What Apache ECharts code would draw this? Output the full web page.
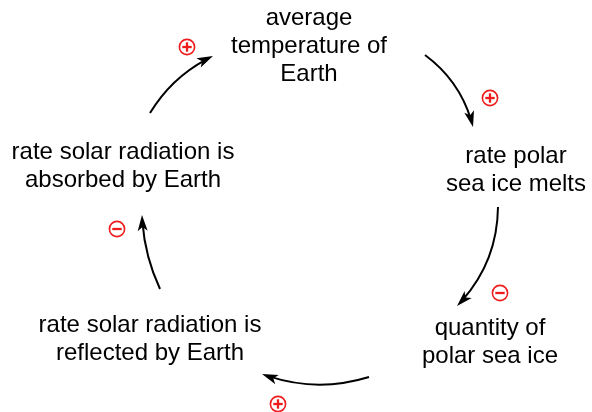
<!DOCTYPE html>
<html>
<head>
<meta charset="utf-8">
<script src="https://cdn.jsdelivr.net/npm/echarts@6/dist/echarts.min.js"></script>
<style>
html,body{margin:0;padding:0;background:#fff;}
#chart{width:592px;height:412px;}
</style>
</head>
<body>
<div id="chart"></div>
<script>
// Concepts of the feedback loop (clockwise from the top)
const conceptLabels = [
  'average\ntemperature of\nEarth',
  'rate polar\nsea ice melts',
  'quantity of\npolar sea ice',
  'rate solar radiation is\nreflected by Earth',
  'rate solar radiation is\nabsorbed by Earth'
];
const conceptPos = [[309, 46], [516, 170], [490, 342], [150, 339], [123, 166]];

// Causal links: concept i -> concept i+1
const linkSigns = ['+', '-', '+', '-', '+'];
const signPos = [[490, 98], [500, 293], [278, 404], [117, 229], [187, 47]];
const arrowFrom = [[425, 55], [498, 207], [369, 377], [160, 289], [150, 113]];
const arrowTo = [[473, 127], [457, 306], [262, 374], [142, 215], [213, 56]];
const arrowCurve = [0.18, 0.2, 0.17, 0.1, 0.15];

const RED = '#ee1c1c';
const FONT = 'Liberation Sans, Arial, sans-serif';

const conceptData = conceptPos.map((p, i) => ({ name: conceptLabels[i], value: p }));
const linkData = arrowFrom.map((f, i) => [f[0], f[1], arrowTo[i][0], arrowTo[i][1], arrowCurve[i]]);
const signData = signPos.map((p, i) => [p[0], p[1], linkSigns[i] === '+' ? 1 : -1]);

function renderConcept(params, api) {
  const p = api.coord([api.value(0), api.value(1)]);
  return {
    type: 'text', x: p[0], y: p[1],
    style: {
      text: conceptLabels[params.dataIndex],
      fontFamily: FONT, fontSize: 24, lineHeight: 28,
      fill: '#000', align: 'center', verticalAlign: 'middle'
    }
  };
}

function renderLink(params, api) {
  const p1 = api.coord([api.value(0), api.value(1)]);
  const p2 = api.coord([api.value(2), api.value(3)]);
  const c = api.value(4);
  const cp = [(p1[0] + p2[0]) / 2 - (p1[1] - p2[1]) * c, (p1[1] + p2[1]) / 2 - (p2[0] - p1[0]) * c];
  let dx = p2[0] - cp[0], dy = p2[1] - cp[1];
  const len = Math.hypot(dx, dy); dx /= len; dy /= len;
  const L = 16, W = 5, N = 12;
  const tip = p2;
  const back = [tip[0] - dx * L, tip[1] - dy * L];
  const left = [back[0] - dy * W, back[1] + dx * W];
  const right = [back[0] + dy * W, back[1] - dx * W];
  const notch = [tip[0] - dx * N, tip[1] - dy * N];
  const chord = Math.hypot(p2[0] - p1[0], p2[1] - p1[1]);
  return {
    type: 'group',
    children: [
      {
        type: 'bezierCurve',
        shape: { x1: p1[0], y1: p1[1], x2: p2[0], y2: p2[1], cpx1: cp[0], cpy1: cp[1], percent: 1 - 7 / chord },
        style: { stroke: '#000', lineWidth: 2, fill: 'none' }
      },
      { type: 'polygon', shape: { points: [tip, left, notch, right] }, style: { fill: '#000' } }
    ]
  };
}

function renderSign(params, api) {
  const p = api.coord([api.value(0), api.value(1)]);
  const plus = api.value(2) > 0;
  const arm = 4.7, th = 2.3;
  const children = [
    { type: 'circle', shape: { cx: p[0], cy: p[1], r: 7.6 }, style: { fill: '#fff', stroke: RED, lineWidth: 1.6 } },
    { type: 'rect', shape: { x: p[0] - arm, y: p[1] - th / 2, width: arm * 2, height: th }, style: { fill: RED } }
  ];
  if (plus) {
    children.push({ type: 'rect', shape: { x: p[0] - th / 2, y: p[1] - arm, width: th, height: arm * 2 }, style: { fill: RED } });
  }
  return { type: 'group', children };
}

const chart = echarts.init(document.getElementById('chart'), null, { renderer: 'canvas' });
chart.setOption({
  backgroundColor: '#fff',
  animation: false,
  grid: { left: 0, right: 0, top: 0, bottom: 0 },
  xAxis: { type: 'value', min: 0, max: 592, show: false },
  yAxis: { type: 'value', min: 0, max: 412, inverse: true, show: false },
  series: [
    { type: 'custom', name: 'links', renderItem: renderLink, data: linkData, clip: false, silent: true, encode: { x: [0, 2], y: [1, 3] } },
    { type: 'custom', name: 'signs', renderItem: renderSign, data: signData, clip: false, silent: true, encode: { x: 0, y: 1 } },
    { type: 'custom', name: 'concepts', renderItem: renderConcept, data: conceptData, clip: false, silent: true, encode: { x: 0, y: 1 } }
  ]
});
</script>
</body>
</html>
